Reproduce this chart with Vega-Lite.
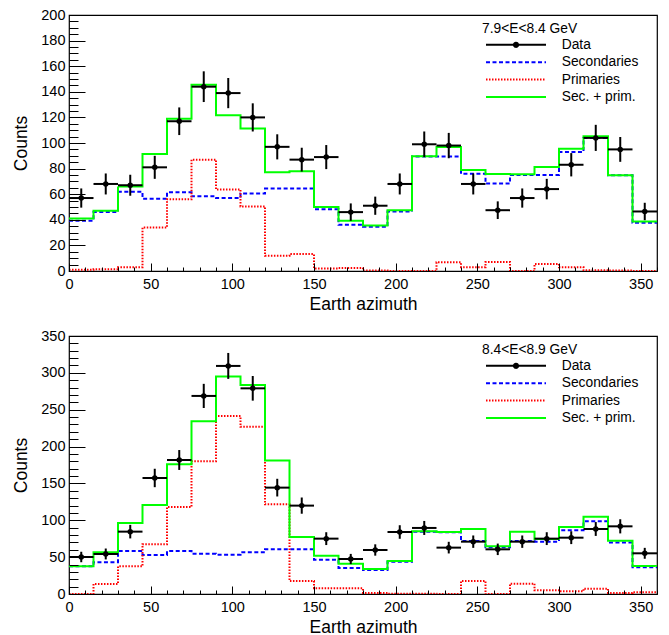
{
  "$schema": "https://vega.github.io/schema/vega-lite/v6.json",
  "padding": {"left": 12, "top": 6, "right": 5, "bottom": 0},
  "spacing": 65,
  "bounds": "flush",
  "datasets": {
    "top": [
      {"lo":0,"hi":15,"c":7.5,"d":57,"e":7.5,"sec":39.2,"prim":1,"tot":41},
      {"lo":15,"hi":30,"c":22.5,"d":68,"e":8.2,"sec":46,"prim":1.3,"tot":47},
      {"lo":30,"hi":45,"c":37.5,"d":67,"e":8.2,"sec":62,"prim":3,"tot":66},
      {"lo":45,"hi":60,"c":52.5,"d":81,"e":9,"sec":56.4,"prim":34,"tot":91.4},
      {"lo":60,"hi":75,"c":67.5,"d":117,"e":10.8,"sec":61.6,"prim":56,"tot":119},
      {"lo":75,"hi":90,"c":82.5,"d":144,"e":12,"sec":58.4,"prim":87,"tot":145.5},
      {"lo":90,"hi":105,"c":97.5,"d":139,"e":11.8,"sec":57,"prim":63.6,"tot":121.6},
      {"lo":105,"hi":120,"c":112.5,"d":120,"e":11,"sec":60.5,"prim":50.4,"tot":111.4},
      {"lo":120,"hi":135,"c":127.5,"d":97,"e":9.8,"sec":64.4,"prim":12,"tot":77.1},
      {"lo":135,"hi":150,"c":142.5,"d":87,"e":9.3,"sec":64.4,"prim":13.2,"tot":78},
      {"lo":150,"hi":165,"c":157.5,"d":89,"e":9.4,"sec":48.3,"prim":2,"tot":50},
      {"lo":165,"hi":180,"c":172.5,"d":46,"e":6.8,"sec":36.1,"prim":2.3,"tot":39.2},
      {"lo":180,"hi":195,"c":187.5,"d":51,"e":7.1,"sec":34.5,"prim":0.3,"tot":35.6},
      {"lo":195,"hi":210,"c":202.5,"d":68,"e":8.2,"sec":46.5,"prim":0,"tot":47.5},
      {"lo":210,"hi":225,"c":217.5,"d":99,"e":10,"sec":89.4,"prim":0,"tot":89.6},
      {"lo":225,"hi":240,"c":232.5,"d":98,"e":9.9,"sec":89.4,"prim":6.8,"tot":96.9},
      {"lo":240,"hi":255,"c":247.5,"d":68,"e":8.2,"sec":76,"prim":3,"tot":79},
      {"lo":255,"hi":270,"c":262.5,"d":47.5,"e":6.9,"sec":68.3,"prim":7,"tot":75.8},
      {"lo":270,"hi":285,"c":277.5,"d":57,"e":7.5,"sec":75,"prim":0,"tot":75.6},
      {"lo":285,"hi":300,"c":292.5,"d":64,"e":8,"sec":75,"prim":5.5,"tot":81.3},
      {"lo":300,"hi":315,"c":307.5,"d":83,"e":9.1,"sec":93,"prim":3,"tot":95.6},
      {"lo":315,"hi":330,"c":322.5,"d":104,"e":10.2,"sec":104,"prim":0.5,"tot":105.2},
      {"lo":330,"hi":345,"c":337.5,"d":95,"e":9.7,"sec":74.8,"prim":0.3,"tot":74.8},
      {"lo":345,"hi":360,"c":352.5,"d":46.5,"e":6.8,"sec":37.7,"prim":0,"tot":38.7}
    ],
    "bot": [
      {"lo":0,"hi":15,"c":7.5,"d":50.2,"e":7.1,"sec":37.5,"prim":0,"tot":37.5},
      {"lo":15,"hi":30,"c":22.5,"d":54.3,"e":7.4,"sec":43,"prim":13.6,"tot":56.5},
      {"lo":30,"hi":45,"c":37.5,"d":84.6,"e":9.2,"sec":58.3,"prim":37.5,"tot":96.3},
      {"lo":45,"hi":60,"c":52.5,"d":157.4,"e":12.5,"sec":52.9,"prim":67.4,"tot":120.8},
      {"lo":60,"hi":75,"c":67.5,"d":181.8,"e":13.5,"sec":58.3,"prim":118,"tot":176},
      {"lo":75,"hi":90,"c":82.5,"d":268.7,"e":16.4,"sec":54.7,"prim":180,"tot":234.3},
      {"lo":90,"hi":105,"c":97.5,"d":309.4,"e":17.6,"sec":53.4,"prim":241.5,"tot":294.9},
      {"lo":105,"hi":120,"c":112.5,"d":279,"e":16.7,"sec":56.5,"prim":227,"tot":283.6},
      {"lo":120,"hi":135,"c":127.5,"d":144.3,"e":12,"sec":60.6,"prim":121.7,"tot":181},
      {"lo":135,"hi":150,"c":142.5,"d":119.9,"e":11,"sec":60.6,"prim":17.6,"tot":77.3},
      {"lo":150,"hi":165,"c":157.5,"d":75.1,"e":8.7,"sec":46.6,"prim":7.7,"tot":52},
      {"lo":165,"hi":180,"c":172.5,"d":47.5,"e":6.9,"sec":35.3,"prim":7.7,"tot":41.2},
      {"lo":180,"hi":195,"c":187.5,"d":59.7,"e":7.7,"sec":32.6,"prim":1.4,"tot":33.9},
      {"lo":195,"hi":210,"c":202.5,"d":84.1,"e":9.2,"sec":43.9,"prim":0.5,"tot":44.8},
      {"lo":210,"hi":225,"c":217.5,"d":89.6,"e":9.5,"sec":84.6,"prim":0.5,"tot":85},
      {"lo":225,"hi":240,"c":232.5,"d":62.9,"e":7.9,"sec":83.7,"prim":0,"tot":84.1},
      {"lo":240,"hi":255,"c":247.5,"d":71,"e":8.4,"sec":71.9,"prim":17.6,"tot":88.2},
      {"lo":255,"hi":270,"c":262.5,"d":60.6,"e":7.8,"sec":63.3,"prim":0,"tot":64.7},
      {"lo":270,"hi":285,"c":277.5,"d":71,"e":8.4,"sec":71.9,"prim":14,"tot":84.6},
      {"lo":285,"hi":300,"c":292.5,"d":75.1,"e":8.7,"sec":71,"prim":5,"tot":74.6},
      {"lo":300,"hi":315,"c":307.5,"d":76.4,"e":8.7,"sec":86.4,"prim":3.6,"tot":90.9},
      {"lo":315,"hi":330,"c":322.5,"d":88.2,"e":9.4,"sec":98.6,"prim":7.2,"tot":104.9},
      {"lo":330,"hi":345,"c":337.5,"d":91.8,"e":9.6,"sec":69.7,"prim":1.4,"tot":72.4},
      {"lo":345,"hi":360,"c":352.5,"d":55.2,"e":7.4,"sec":36.2,"prim":2.3,"tot":38}
    ]
  },
  "resolve": {"scale": {"x": "independent", "y": "independent", "color": "independent", "strokeDash": "independent", "strokeWidth": "independent"}},
  "vconcat": [
    {
      "width": 588, "height": 256,
      "data": {"name": "top"},
      "resolve": {"axis": {"x": "independent", "y": "independent"}},
      "layer": [
        {
          "transform": [{"fold": ["sec", "prim", "tot"], "as": ["series", "val"]}, {"fold": ["lo", "hi"], "as": ["edge", "ex"]}],
          "mark": {"type": "line", "clip": true},
          "encoding": {
            "x": {"field": "ex", "type": "quantitative", "scale": {"domain": [0, 360], "nice": false, "zero": false},
                  "axis": {"orient": "bottom", "values": [0,50,100,150,200,250,300,350], "ticks": true, "tickSize": -8, "tickColor": "black", "tickWidth": 1, "zindex": 1, "labels": false, "domain": false, "grid": false, "title": null}},
            "y": {"field": "val", "type": "quantitative", "scale": {"domain": [0, 200], "nice": false},
                  "axis": {"orient": "left", "values": [0,20,40,60,80,100,120,140,160,180,200], "ticks": true, "tickSize": -16, "tickColor": "black", "tickWidth": 1, "zindex": 1, "labels": false, "domain": false, "grid": false, "title": null}},
            "color": {"field": "series", "type": "nominal",
                      "scale": {"domain": ["data", "sec", "prim", "tot"], "range": ["#000000", "#0000ff", "#ff0000", "#00ff00"]},
                      "legend": {"title": "7.9<E<8.4 GeV", "orient": "none", "legendX": 413, "legendY": 7, "symbolType": "stroke", "symbolSize": 3600, "symbolStrokeWidth": 2, "clipHeight": 16, "rowPadding": 1.4, "labelOffset": 14.7, "symbolOffset": 3, "titlePadding": 1, "padding": 0,
                                 "labelExpr": "{'data':'Data','sec':'Secondaries','prim':'Primaries','tot':'Sec. + prim.'}[datum.value]",
                                 "encode": {"symbols": {"update": {"shape": [{"test": "datum.value === 'data'", "value": "M-1,0H1M-0.07,0A0.07,0.07,0,1,1,0.07,0A0.07,0.07,0,1,1,-0.07,0Z"}, {"value": "stroke"}], "fill": [{"test": "datum.value === 'data'", "value": "black"}, {"value": "transparent"}]}}}}},
            "strokeDash": {"field": "series", "type": "nominal",
                      "scale": {"domain": ["data", "sec", "prim", "tot"], "range": [[1, 0], [4, 2.5], [1.5, 1.5], [1, 0]]},
                      "legend": {"title": "7.9<E<8.4 GeV", "orient": "none", "legendX": 413, "legendY": 7, "symbolType": "stroke", "symbolSize": 3600, "symbolStrokeWidth": 2, "clipHeight": 16, "rowPadding": 1.4, "labelOffset": 14.7, "symbolOffset": 3, "titlePadding": 1, "padding": 0,
                                 "labelExpr": "{'data':'Data','sec':'Secondaries','prim':'Primaries','tot':'Sec. + prim.'}[datum.value]",
                                 "encode": {"symbols": {"update": {"shape": [{"test": "datum.value === 'data'", "value": "M-1,0H1M-0.07,0A0.07,0.07,0,1,1,0.07,0A0.07,0.07,0,1,1,-0.07,0Z"}, {"value": "stroke"}], "fill": [{"test": "datum.value === 'data'", "value": "black"}, {"value": "transparent"}]}}}}},
            "strokeWidth": {"field": "series", "type": "ordinal", "scale": {"domain": ["data", "sec", "prim", "tot"], "range": [2, 2, 1.5, 2]}, "legend": null},
            "order": [{"field": "ex", "type": "quantitative"}, {"field": "edge", "type": "nominal"}]
          }
        },
        {
          "mark": {"type": "rule", "color": "black", "strokeWidth": 2},
          "encoding": {
            "x": {"field": "lo", "type": "quantitative", "scale": {"domain": [0, 360], "nice": false, "zero": false},
                  "axis": {"orient": "bottom", "values": [0,50,100,150,200,250,300,350], "ticks": false, "labelPadding": 6.5, "domain": false, "grid": false, "title": "Earth azimuth", "titlePadding": 4}},
            "x2": {"field": "hi"},
            "y": {"field": "d", "type": "quantitative", "scale": {"domain": [0, 200], "nice": false},
                  "axis": {"orient": "left", "values": [0,20,40,60,80,100,120,140,160,180,200], "ticks": false, "labelPadding": 4, "domain": false, "grid": false, "title": "Counts", "titlePadding": 10}}
          }
        },
        {
          "mark": {"type": "errorbar", "ticks": false, "thickness": 2, "color": "black"},
          "encoding": {
            "x": {"field": "c", "type": "quantitative", "scale": {"domain": [0, 360], "nice": false, "zero": false}, "axis": null},
            "y": {"field": "d", "type": "quantitative", "scale": {"domain": [0, 200], "nice": false}, "axis": null},
            "yError": {"field": "e"}
          }
        },
        {
          "mark": {"type": "point", "filled": true, "color": "black", "size": 30, "opacity": 1},
          "encoding": {
            "x": {"field": "c", "type": "quantitative", "scale": {"domain": [0, 360], "nice": false, "zero": false},
                  "axis": {"orient": "bottom", "values": [0,10,20,30,40,50,60,70,80,90,100,110,120,130,140,150,160,170,180,190,200,210,220,230,240,250,260,270,280,290,300,310,320,330,340,350,360], "ticks": true, "tickSize": -4, "tickColor": "black", "tickWidth": 1, "zindex": 1, "labels": false, "domain": false, "grid": false, "title": null}},
            "y": {"field": "d", "type": "quantitative", "scale": {"domain": [0, 200], "nice": false},
                  "axis": {"orient": "left", "values": [0,5,10,15,20,25,30,35,40,45,50,55,60,65,70,75,80,85,90,95,100,105,110,115,120,125,130,135,140,145,150,155,160,165,170,175,180,185,190,195,200], "ticks": true, "tickSize": -9, "tickColor": "black", "tickWidth": 1, "zindex": 1, "labels": false, "domain": false, "grid": false, "title": null}}
          }
        }
      ]
    },
    {
      "width": 588, "height": 258,
      "data": {"name": "bot"},
      "resolve": {"axis": {"x": "independent", "y": "independent"}},
      "layer": [
        {
          "transform": [{"fold": ["sec", "prim", "tot"], "as": ["series", "val"]}, {"fold": ["lo", "hi"], "as": ["edge", "ex"]}],
          "mark": {"type": "line", "clip": true},
          "encoding": {
            "x": {"field": "ex", "type": "quantitative", "scale": {"domain": [0, 360], "nice": false, "zero": false},
                  "axis": {"orient": "bottom", "values": [0,50,100,150,200,250,300,350], "ticks": true, "tickSize": -8, "tickColor": "black", "tickWidth": 1, "zindex": 1, "labels": false, "domain": false, "grid": false, "title": null}},
            "y": {"field": "val", "type": "quantitative", "scale": {"domain": [0, 350], "nice": false},
                  "axis": {"orient": "left", "values": [0,50,100,150,200,250,300,350], "ticks": true, "tickSize": -16, "tickColor": "black", "tickWidth": 1, "zindex": 1, "labels": false, "domain": false, "grid": false, "title": null}},
            "color": {"field": "series", "type": "nominal",
                      "scale": {"domain": ["data", "sec", "prim", "tot"], "range": ["#000000", "#0000ff", "#ff0000", "#00ff00"]},
                      "legend": {"title": "8.4<E<8.9 GeV", "orient": "none", "legendX": 413, "legendY": 7, "symbolType": "stroke", "symbolSize": 3600, "symbolStrokeWidth": 2, "clipHeight": 16, "rowPadding": 1.4, "labelOffset": 14.7, "symbolOffset": 3, "titlePadding": 1, "padding": 0,
                                 "labelExpr": "{'data':'Data','sec':'Secondaries','prim':'Primaries','tot':'Sec. + prim.'}[datum.value]",
                                 "encode": {"symbols": {"update": {"shape": [{"test": "datum.value === 'data'", "value": "M-1,0H1M-0.07,0A0.07,0.07,0,1,1,0.07,0A0.07,0.07,0,1,1,-0.07,0Z"}, {"value": "stroke"}], "fill": [{"test": "datum.value === 'data'", "value": "black"}, {"value": "transparent"}]}}}}},
            "strokeDash": {"field": "series", "type": "nominal",
                      "scale": {"domain": ["data", "sec", "prim", "tot"], "range": [[1, 0], [4, 2.5], [1.5, 1.5], [1, 0]]},
                      "legend": {"title": "8.4<E<8.9 GeV", "orient": "none", "legendX": 413, "legendY": 7, "symbolType": "stroke", "symbolSize": 3600, "symbolStrokeWidth": 2, "clipHeight": 16, "rowPadding": 1.4, "labelOffset": 14.7, "symbolOffset": 3, "titlePadding": 1, "padding": 0,
                                 "labelExpr": "{'data':'Data','sec':'Secondaries','prim':'Primaries','tot':'Sec. + prim.'}[datum.value]",
                                 "encode": {"symbols": {"update": {"shape": [{"test": "datum.value === 'data'", "value": "M-1,0H1M-0.07,0A0.07,0.07,0,1,1,0.07,0A0.07,0.07,0,1,1,-0.07,0Z"}, {"value": "stroke"}], "fill": [{"test": "datum.value === 'data'", "value": "black"}, {"value": "transparent"}]}}}}},
            "strokeWidth": {"field": "series", "type": "ordinal", "scale": {"domain": ["data", "sec", "prim", "tot"], "range": [2, 2, 1.5, 2]}, "legend": null},
            "order": [{"field": "ex", "type": "quantitative"}, {"field": "edge", "type": "nominal"}]
          }
        },
        {
          "mark": {"type": "rule", "color": "black", "strokeWidth": 2},
          "encoding": {
            "x": {"field": "lo", "type": "quantitative", "scale": {"domain": [0, 360], "nice": false, "zero": false},
                  "axis": {"orient": "bottom", "values": [0,50,100,150,200,250,300,350], "ticks": false, "labelPadding": 6.5, "domain": false, "grid": false, "title": "Earth azimuth", "titlePadding": 4}},
            "x2": {"field": "hi"},
            "y": {"field": "d", "type": "quantitative", "scale": {"domain": [0, 350], "nice": false},
                  "axis": {"orient": "left", "values": [0,50,100,150,200,250,300,350], "ticks": false, "labelPadding": 4, "domain": false, "grid": false, "title": "Counts", "titlePadding": 10}}
          }
        },
        {
          "mark": {"type": "errorbar", "ticks": false, "thickness": 2, "color": "black"},
          "encoding": {
            "x": {"field": "c", "type": "quantitative", "scale": {"domain": [0, 360], "nice": false, "zero": false}, "axis": null},
            "y": {"field": "d", "type": "quantitative", "scale": {"domain": [0, 350], "nice": false}, "axis": null},
            "yError": {"field": "e"}
          }
        },
        {
          "mark": {"type": "point", "filled": true, "color": "black", "size": 30, "opacity": 1},
          "encoding": {
            "x": {"field": "c", "type": "quantitative", "scale": {"domain": [0, 360], "nice": false, "zero": false},
                  "axis": {"orient": "bottom", "values": [0,10,20,30,40,50,60,70,80,90,100,110,120,130,140,150,160,170,180,190,200,210,220,230,240,250,260,270,280,290,300,310,320,330,340,350,360], "ticks": true, "tickSize": -4, "tickColor": "black", "tickWidth": 1, "zindex": 1, "labels": false, "domain": false, "grid": false, "title": null}},
            "y": {"field": "d", "type": "quantitative", "scale": {"domain": [0, 350], "nice": false},
                  "axis": {"orient": "left", "values": [0,10,20,30,40,50,60,70,80,90,100,110,120,130,140,150,160,170,180,190,200,210,220,230,240,250,260,270,280,290,300,310,320,330,340,350], "ticks": true, "tickSize": -9, "tickColor": "black", "tickWidth": 1, "zindex": 1, "labels": false, "domain": false, "grid": false, "title": null}}
          }
        }
      ]
    }
  ],
  "config": {
    "font": "Liberation Sans",
    "view": {"stroke": "black", "strokeWidth": 1.2},
    "axis": {"labelFont": "Liberation Sans", "titleFont": "Liberation Sans", "labelFontSize": 14.5, "titleFontSize": 17.5, "labelColor": "black", "titleColor": "black", "titleFontWeight": "normal", "tickColor": "black", "tickWidth": 1, "grid": false, "domain": false, "labelFlush": false, "labelOverlap": false},
    "legend": {"labelFont": "Liberation Sans", "titleFont": "Liberation Sans", "labelFontSize": 13.8, "titleFontSize": 13.8, "titleFontWeight": "normal", "labelColor": "black", "titleColor": "black", "padding": 0}
  }
}
